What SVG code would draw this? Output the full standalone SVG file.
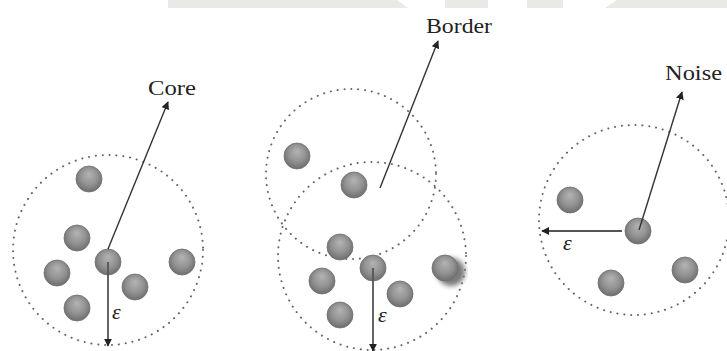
<svg xmlns="http://www.w3.org/2000/svg" width="727" height="351" viewBox="0 0 727 351">
<style>
.region{fill:none;stroke:#666;stroke-width:2;stroke-dasharray:0.1 6.8;stroke-linecap:round}
.pt{fill:url(#ballg);stroke:#707070;stroke-width:0.8}
.lbl{font-family:'Liberation Serif',Tinos,'Times New Roman',Times,serif;font-size:22px;fill:#222}
.eps{font-family:'Liberation Serif',Tinos,'Times New Roman',Times,serif;font-size:22px;font-style:italic;fill:#222}
.arr{stroke:#333;stroke-width:1.4;fill:none;marker-end:url(#ah)}
.earr{stroke:#555;stroke-width:1.8;fill:none;marker-end:url(#ah)}
.wm{fill:#e9e9e5}
</style>
<defs>
<radialGradient id="ballg" cx="0.5" cy="0.45" r="0.55" fx="0.5" fy="0.3">
<stop offset="0" stop-color="#b4b4b4"/>
<stop offset="0.6" stop-color="#929292"/>
<stop offset="1" stop-color="#6e6e6e"/>
</radialGradient>
<marker id="ah" viewBox="0 0 10 10" refX="9" refY="5" markerWidth="8" markerHeight="8" markerUnits="userSpaceOnUse" orient="auto">
<path d="M0,0 L10,5 L0,10 Z" fill="#222"/>
</marker>
<filter id="blur" x="-50%" y="-50%" width="200%" height="200%"><feGaussianBlur stdDeviation="2.5"/></filter>
<clipPath id="cut"><rect x="420" y="240" width="48" height="50"/></clipPath>
</defs>
<g id="watermark">
<polygon class="wm" points="168,0 397,0 408,8 168,8"/>
<rect class="wm" x="445" y="0" width="43" height="8"/>
<rect class="wm" x="527" y="0" width="36" height="8"/>
<polygon class="wm" points="617,0 727,0 727,8 605,8"/>
</g>
<g id="core-region">
<circle class="region" cx="108" cy="250" r="95"/>
</g>
<g id="border-region-1">
<circle class="region" cx="351" cy="174" r="85"/>
</g>
<g id="border-region-2">
<circle class="region" cx="372" cy="256" r="94"/>
</g>
<g id="noise-region">
<circle class="region" cx="634" cy="220" r="95"/>
</g>
<g id="points-1">
<circle class="pt" cx="89" cy="179" r="13"/>
<circle class="pt" cx="77" cy="238" r="13"/>
<circle class="pt" cx="57" cy="273" r="13"/>
<circle class="pt" cx="108" cy="262" r="13"/>
<circle class="pt" cx="135" cy="287" r="13"/>
<circle class="pt" cx="77" cy="308" r="13"/>
<circle class="pt" cx="182" cy="262" r="13"/>
</g>
<g id="points-2">
<circle class="pt" cx="297" cy="156" r="13"/>
<circle class="pt" cx="354" cy="185" r="13"/>
<circle class="pt" cx="340" cy="247" r="13"/>
<circle class="pt" cx="322" cy="281" r="13"/>
<circle class="pt" cx="373" cy="268" r="13"/>
<circle class="pt" cx="400" cy="294" r="13"/>
<circle class="pt" cx="340" cy="315" r="13"/>
<g clip-path="url(#cut)"><circle cx="451" cy="272" r="14" fill="#7a7a7a" filter="url(#blur)"/></g>
<circle class="pt" cx="445" cy="268" r="13"/>
</g>
<g id="points-3">
<circle class="pt" cx="570" cy="200" r="13"/>
<circle class="pt" cx="638" cy="231" r="13"/>
<circle class="pt" cx="611" cy="283" r="13"/>
<circle class="pt" cx="685" cy="270" r="13"/>
</g>
<g id="connectors">
<line class="arr" x1="108" y1="249" x2="168" y2="102"/>
<line class="earr" x1="108" y1="262" x2="108" y2="346"/>
<line class="arr" x1="380" y1="188" x2="438" y2="41"/>
<line class="earr" x1="373" y1="268" x2="373" y2="351"/>
<line class="arr" x1="639" y1="230" x2="682" y2="92"/>
<line class="earr" x1="622" y1="231" x2="542" y2="231"/>
</g>
<g id="labels">
<text class="lbl" x="148" y="95" textLength="48" lengthAdjust="spacingAndGlyphs">Core</text>
<text class="lbl" x="426" y="33" textLength="66" lengthAdjust="spacingAndGlyphs">Border</text>
<text class="lbl" x="665" y="80" textLength="57" lengthAdjust="spacingAndGlyphs">Noise</text>
<text class="eps" x="112" y="319">ε</text>
<text class="eps" x="378" y="322">ε</text>
<text class="eps" x="563" y="250">ε</text>
</g>
</svg>
